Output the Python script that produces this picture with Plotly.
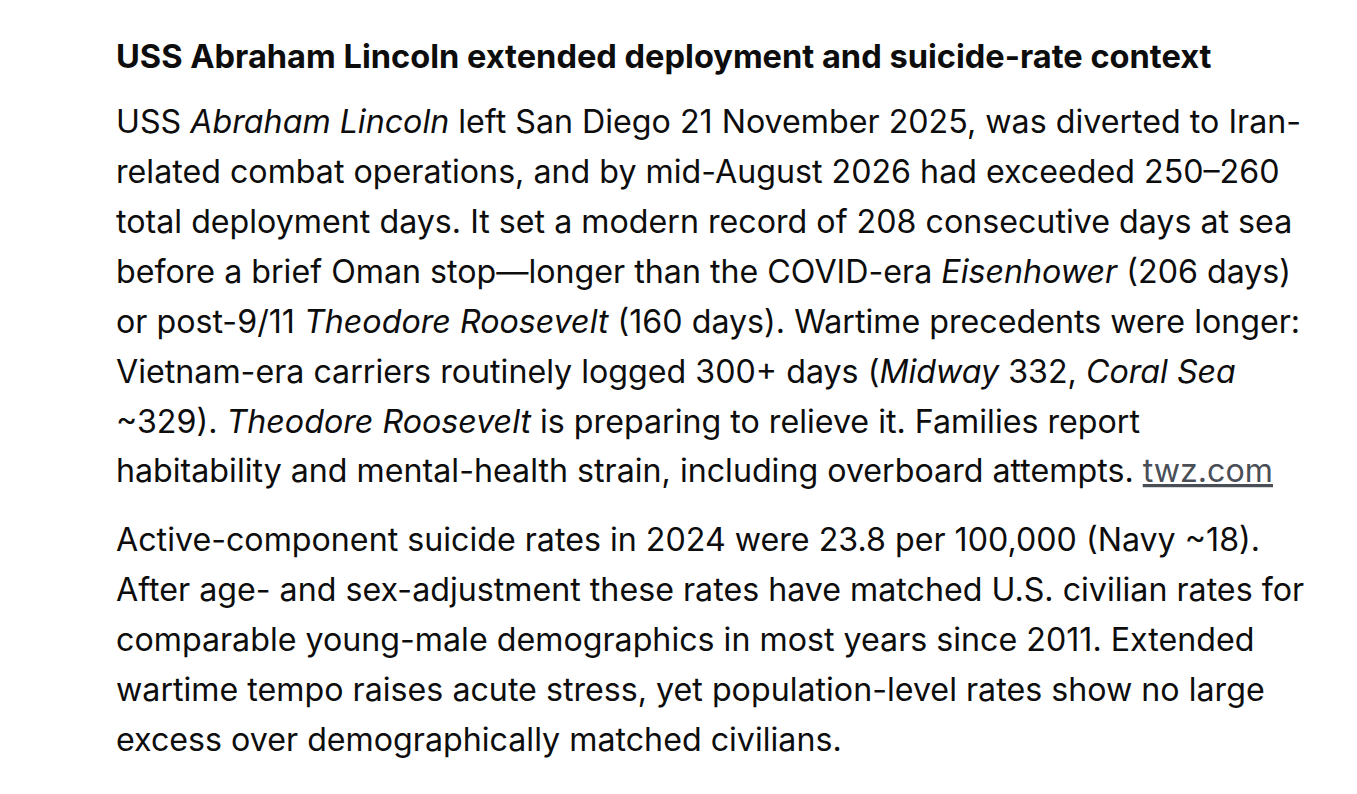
import plotly.graph_objects as go

W, H = 1357, 794
FONT = "Inter"

title = "USS Abraham Lincoln extended deployment and suicide-rate context"

para1_lines = [
    "USS <i>Abraham Lincoln</i> left San Diego 21 November 2025, was diverted to Iran-",
    "related combat operations, and by mid-August 2026 had exceeded 250–260",
    "total deployment days. It set a modern record of 208 consecutive days at sea",
    "before a brief Oman stop—longer than the COVID-era <i>Eisenhower</i> (206 days)",
    "or post-9/11 <i>Theodore Roosevelt</i> (160 days). Wartime precedents were longer:",
    "Vietnam-era carriers routinely logged 300+ days (<i>Midway</i> 332, <i>Coral Sea</i>",
    "~329). <i>Theodore Roosevelt</i> is preparing to relieve it. Families report",
    "habitability and mental-health strain, including overboard attempts. "
    "<span style='color:#4a4f57'><u>twz.com</u></span>",
]

para2_lines = [
    "Active-component suicide rates in 2024 were 23.8 per 100,000 (Navy ~18).",
    "After age- and sex-adjustment these rates have matched U.S. civilian rates for",
    "comparable young-male demographics in most years since 2011. Extended",
    "wartime tempo raises acute stress, yet population-level rates show no large",
    "excess over demographically matched civilians.",
]

# vertical centres of each text line, in pixels from the top
title_y = 57
para1_y = [122, 172, 222, 272, 322, 372, 422, 472]
para2_y = [540, 590, 640, 690, 740]
left_x = 116

fig = go.Figure()

def add_line(text, ypix, size, bold=False):
    # annotations carry a little padding, so nudge them back onto the target spot
    fig.add_annotation(
        text=("<b>" + text + "</b>") if bold else text,
        x=left_x / W, y=1 - ypix / H,
        xref="paper", yref="paper",
        xanchor="left", yanchor="middle",
        xshift=-10, yshift=9,
        showarrow=False,
        font=dict(family=FONT, size=size, color="#0d0d0d"),
    )

add_line(title, title_y, 32.6, bold=True)
for t, y in zip(para1_lines, para1_y):
    add_line(t, y, 32.2)
for t, y in zip(para2_lines, para2_y):
    add_line(t, y, 32.2)

fig.update_layout(
    width=W, height=H,
    margin=dict(l=0, r=0, t=0, b=0),
    paper_bgcolor="white", plot_bgcolor="white",
    xaxis=dict(visible=False, range=[0, 1]),
    yaxis=dict(visible=False, range=[0, 1]),
    showlegend=False,
)

fig.write_html("out.html")
